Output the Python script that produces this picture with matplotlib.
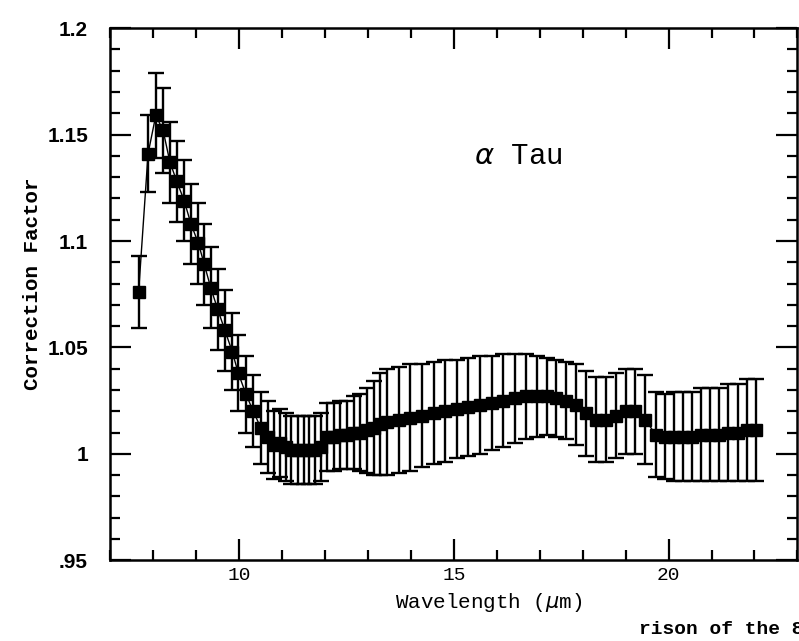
import matplotlib.pyplot as plt
from matplotlib.ticker import MultipleLocator, FixedLocator, FixedFormatter

# wavelength (micron) of each point
wavelength = [7.66, 7.88, 8.06, 8.23, 8.39, 8.55, 8.72, 8.88, 9.05, 9.19,
              9.34, 9.50, 9.67, 9.84, 9.98, 10.16, 10.33, 10.51, 10.67,
              10.82, 10.95, 11.09, 11.22, 11.36, 11.50, 11.63, 11.77, 11.90,
              12.05, 12.20, 12.36, 12.51, 12.67, 12.82, 12.98, 13.13, 13.29,
              13.45, 13.72, 13.99, 14.26, 14.53, 14.80, 15.07, 15.34, 15.61,
              15.88, 16.15, 16.42, 16.69,
              16.93, 17.16, 17.39, 17.62, 17.85, 18.08, 18.31, 18.54, 18.77,
              19.00, 19.23, 19.46,
              19.70, 19.91, 20.12, 20.33, 20.55, 20.76, 20.97, 21.18, 21.39,
              21.61, 21.82, 22.03]

factor = [1.076, 1.141, 1.159, 1.152, 1.137, 1.128, 1.119, 1.108, 1.099, 1.089,
          1.078, 1.068, 1.058, 1.048, 1.038, 1.028, 1.020, 1.012, 1.008,
          1.004, 1.005, 1.003, 1.002, 1.002, 1.002, 1.002, 1.002, 1.003,
          1.008, 1.008, 1.009, 1.009, 1.010, 1.010, 1.011, 1.012, 1.014,
          1.015, 1.016, 1.017, 1.018, 1.019, 1.020, 1.021, 1.022, 1.023,
          1.024, 1.025, 1.026, 1.027,
          1.027, 1.027, 1.026, 1.025, 1.023, 1.019, 1.016, 1.016, 1.018,
          1.020, 1.020, 1.016,
          1.009, 1.008, 1.008, 1.008, 1.008, 1.009, 1.009, 1.009, 1.010,
          1.010, 1.011, 1.011]

factor_err = [0.017, 0.018, 0.020, 0.020, 0.019, 0.019, 0.019, 0.019, 0.019, 0.019,
              0.019, 0.019, 0.019, 0.018, 0.018, 0.018, 0.017, 0.017, 0.017,
              0.016, 0.016, 0.016, 0.016, 0.016, 0.016, 0.016, 0.016, 0.016,
              0.016, 0.016, 0.016, 0.016, 0.017, 0.018, 0.020, 0.022, 0.024,
              0.025, 0.025, 0.025, 0.024, 0.024, 0.024, 0.023, 0.023, 0.023,
              0.022, 0.022, 0.021, 0.020,
              0.019, 0.018, 0.018, 0.018, 0.019, 0.020, 0.020, 0.020, 0.020,
              0.020, 0.020, 0.021,
              0.020, 0.020, 0.021, 0.021, 0.021, 0.022, 0.022, 0.022, 0.023,
              0.023, 0.024, 0.024]

ytick_vals = [0.95, 1.0, 1.05, 1.1, 1.15, 1.2]
ytick_labels = ['.95', '1', '1.05', '1.1', '1.15', '1.2']

fig = plt.figure(figsize=(7.99, 6.41), dpi=100)
ax = fig.add_axes([0.138, 0.126, 0.86, 0.83])

ax.errorbar(wavelength, factor, yerr=factor_err, fmt='s-', color='black',
            markersize=9, linewidth=1.0, elinewidth=1.7, capsize=6, capthick=1.7)

ax.set_xlim(7, 23)
ax.set_ylim(0.95, 1.2)
ax.xaxis.set_major_locator(MultipleLocator(5))
ax.xaxis.set_minor_locator(MultipleLocator(1))
ax.yaxis.set_major_locator(FixedLocator(ytick_vals))
ax.yaxis.set_major_formatter(FixedFormatter(ytick_labels))
ax.yaxis.set_minor_locator(MultipleLocator(0.01))

ax.tick_params(which='both', direction='in', top=True, right=True, width=1.6)
ax.tick_params(which='major', length=15)
ax.tick_params(which='minor', length=7.5)
ax.tick_params(axis='y', pad=16)
ax.tick_params(axis='x', pad=5)
for s in ax.spines.values():
    s.set_linewidth(1.8)

for lab in ax.get_yticklabels():
    lab.set_fontfamily('Liberation Sans')
    lab.set_fontweight('bold')
    lab.set_fontsize(15)
for lab in ax.get_xticklabels():
    lab.set_fontfamily('Liberation Mono')
    lab.set_fontsize(14)

ax.set_ylabel('Correction Factor', family='Liberation Mono', fontsize=15, fontweight='bold')
ax.set_xlabel(r'Wavelength ($\mu$m)', family='Liberation Mono', fontsize=15)
ax.yaxis.set_label_coords(-0.1, 0.52)
ax.xaxis.set_label_coords(0.55, -0.058)

ax.text(16.5, 1.14, r'$\alpha$ Tau', family='Liberation Mono', fontsize=21,
        ha='center', va='center')

fig.text(0.80, 0.005, 'rison of the 8', family='Liberation Mono', fontsize=14,
         fontweight='bold', ha='left', va='bottom')

fig.savefig('out.png', dpi=100)
